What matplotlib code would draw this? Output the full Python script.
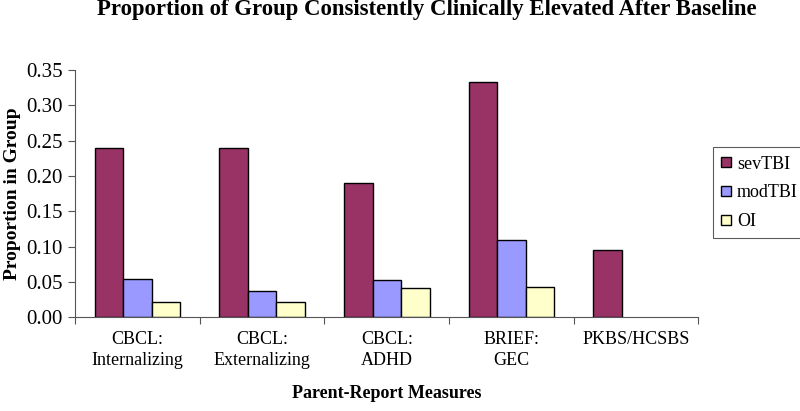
import numpy as np
import matplotlib
matplotlib.use("Agg")
import matplotlib.pyplot as plt

plt.rcParams['font.family'] = ['Liberation Serif', 'DejaVu Serif']

#==================== data
categories = ["CBCL:\nInternalizing", "CBCL:\nExternalizing", "CBCL:\nADHD",
              "BRIEF:\nGEC", "PKBS/HCSBS"]
sevTBI = [0.239, 0.239, 0.190, 0.333, 0.095]
modTBI = [0.054, 0.037, 0.053, 0.110, 0.0]
OI     = [0.022, 0.022, 0.042, 0.043, 0.0]
series_names = ["sevTBI", "modTBI", "OI"]
colors = ["#993366", "#9999FF", "#FFFFCC"]

#==================== figure
fig = plt.figure(figsize=(8.0, 4.11), dpi=100)
ax = fig.add_axes([0.094, 0.228, 0.779, 0.602])

x = np.arange(len(categories))
w = 0.229
for i, (vals, name) in enumerate(zip([sevTBI, modTBI, OI], series_names)):
  vals = np.array(vals)
  keep = vals > 0
  ax.bar(x[keep] + (i - 1) * w, vals[keep], width=w, color=colors[i],
         edgecolor="black", linewidth=1.0, label=name)

ax.set_xlim(-0.5, len(categories) - 0.5)
ax.set_ylim(0, 0.35)
yt = np.arange(0, 0.351, 0.05)
ax.set_yticks(yt)
ax.set_yticklabels(["{:.2f}".format(v) for v in yt], fontsize=15)

# category labels centred, ticks at boundaries
ax.set_xticks(np.arange(-0.5, len(categories)), minor=False)
ax.set_xticklabels([])
ax.set_xticks(x, minor=True)
ax.set_xticklabels(categories, minor=True, fontsize=13, linespacing=1.28)
ax.tick_params(axis="x", which="minor", length=0, pad=10)
ax.tick_params(axis="x", which="major", direction="out", length=5, color="#555555")
ax.tick_params(axis="y", direction="out", length=5, color="#555555", pad=4)

for s in ["top", "right"]:
  ax.spines[s].set_visible(False)
for s in ["left", "bottom"]:
  ax.spines[s].set_color("#555555")

ax.set_ylabel("Proportion in Group", fontsize=14, fontweight="bold", labelpad=4)
ax.set_xlabel("Parent-Report Measures", fontsize=13, fontweight="bold", labelpad=12)
fig.text(0.533, 1 - 10 / 411,
         "Proportion of Group Consistently Clinically Elevated After Baseline",
         fontsize=16.4, fontweight="bold", ha="center", va="center")

leg = ax.legend(loc="center left", bbox_to_anchor=(1.024, 0.503), fontsize=13,
                frameon=True, fancybox=False, edgecolor="#333333",
                handlelength=0.5, handleheight=0.5, handletextpad=0.35,
                labelspacing=0.65, borderpad=0.45, borderaxespad=0)
leg.get_frame().set_linewidth(0.8)

plt.savefig("out.png", dpi=100)
